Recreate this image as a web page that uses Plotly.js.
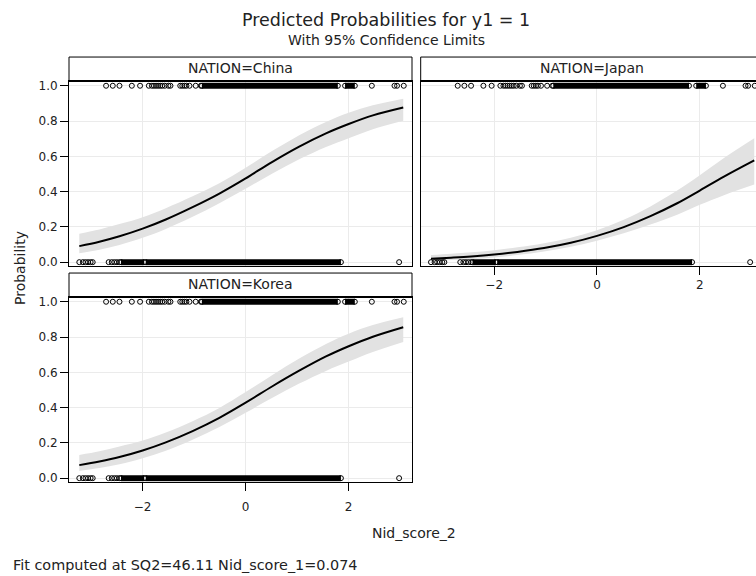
<!DOCTYPE html>
<html><head><meta charset="utf-8">
<script src="https://cdn.plot.ly/plotly-3.0.1.min.js"></script>
<style>html,body{margin:0;padding:0;overflow:hidden;background:#fff}#chart{width:772px;height:576px}</style>
</head><body><div id="chart"></div>
<script>
// ---- data ----
const nations = ['China', 'Japan', 'Korea'];
const fitX = [-3.23, -2.84, -2.45, -2.0, -1.55, -1.03, -0.51, 0, 0.52, 1.04, 1.56, 2.0, 2.47, 3.06];

const chinaP  = [0.091, 0.116, 0.147, 0.190, 0.242, 0.312, 0.389, 0.475, 0.569, 0.655, 0.730, 0.783, 0.832, 0.877];
const chinaLo = [0.050, 0.070, 0.097, 0.138, 0.188, 0.257, 0.334, 0.416, 0.503, 0.583, 0.653, 0.703, 0.754, 0.802];
const chinaHi = [0.161, 0.185, 0.216, 0.255, 0.306, 0.373, 0.448, 0.535, 0.631, 0.720, 0.795, 0.847, 0.889, 0.926];

const japanP  = [0.019, 0.025, 0.032, 0.043, 0.058, 0.080, 0.110, 0.149, 0.199, 0.261, 0.334, 0.406, 0.485, 0.577];
const japanLo = [0.009, 0.013, 0.018, 0.027, 0.040, 0.060, 0.087, 0.122, 0.164, 0.213, 0.269, 0.325, 0.380, 0.440];
const japanHi = [0.040, 0.048, 0.056, 0.068, 0.084, 0.107, 0.138, 0.181, 0.240, 0.316, 0.406, 0.493, 0.591, 0.703];

const koreaP  = [0.074, 0.095, 0.120, 0.157, 0.203, 0.267, 0.342, 0.428, 0.521, 0.609, 0.690, 0.748, 0.802, 0.856];
const koreaLo = [0.040, 0.057, 0.079, 0.113, 0.156, 0.218, 0.290, 0.371, 0.456, 0.536, 0.608, 0.661, 0.715, 0.772];
const koreaHi = [0.132, 0.153, 0.180, 0.214, 0.259, 0.323, 0.398, 0.488, 0.585, 0.678, 0.761, 0.819, 0.868, 0.912];

// observed Nid_score_2 values (same pattern in every panel)
const obsY1Sparse = [-2.71, -2.58, -2.45, -2.21, -2.05, -1.88, -1.82, -1.78, -1.74, -1.70, -1.66, -1.62, -1.57,
                     -1.50, -1.46, -1.27, -1.23, -1.19, -1.15, -1.09, -0.97, -0.87, 2.45, 2.89, 2.94, 3.07];
const obsY1Dense  = [[-0.85, 1.79], [1.93, 2.12]];
const obsY0Sparse = [-3.23, -3.16, -3.11, -3.06, -3.01, -2.97, -2.66, -2.60, -2.55, -2.50, -2.45, 2.98];
const obsY0Dense  = [[-2.42, -1.97], [-1.94, 1.85]];

const xTicks = [-2, 0, 2];
const yTicks = [0, 0.2, 0.4, 0.6, 0.8, 1.0];
const yTickText = ['0.0', '0.2', '0.4', '0.6', '0.8', '1.0'];

// ---- build ----
const FONT = 'DejaVu Sans, sans-serif';
const TXT = '#222';
const W = 772, H = 576;
const px2x = p => p / W;
const py2y = p => 1 - p / H;

const panels = [
  {name: nations[0], p: chinaP, lo: chinaLo, hi: chinaHi, xa: 'x',  ya: 'y'},
  {name: nations[1], p: japanP, lo: japanLo, hi: japanHi, xa: 'x2', ya: 'y2'},
  {name: nations[2], p: koreaP, lo: koreaLo, hi: koreaHi, xa: 'x3', ya: 'y3'}
];

function segs(list, yv) {
  const x = [], y = [];
  list.forEach(s => { x.push(s[0], s[1], null); y.push(yv, yv, null); });
  return {x, y};
}

const MK = {symbol: 'circle-open', size: 5, color: '#000', line: {width: 1}};
const traces = [];
panels.forEach(pn => {
  traces.push({x: fitX, y: pn.lo, xaxis: pn.xa, yaxis: pn.ya, mode: 'lines',
    line: {width: 0, shape: 'spline'}, hoverinfo: 'skip', showlegend: false});
  traces.push({x: fitX, y: pn.hi, xaxis: pn.xa, yaxis: pn.ya, mode: 'lines', fill: 'tonexty',
    fillcolor: '#e2e2e2', line: {width: 0, shape: 'spline'}, hoverinfo: 'skip', showlegend: false});
  traces.push({x: fitX, y: pn.p, xaxis: pn.xa, yaxis: pn.ya, mode: 'lines',
    line: {color: '#000', width: 2, shape: 'spline'}, showlegend: false});
  const d1 = segs(obsY1Dense, 1), d0 = segs(obsY0Dense, 0);
  [d1, d0].forEach(d => traces.push({x: d.x, y: d.y, xaxis: pn.xa, yaxis: pn.ya, mode: 'lines+markers',
    line: {color: '#000', width: 6}, marker: MK, connectgaps: false, showlegend: false}));
  traces.push({x: obsY1Sparse, y: obsY1Sparse.map(() => 1), xaxis: pn.xa, yaxis: pn.ya, mode: 'markers',
    marker: MK, showlegend: false});
  traces.push({x: obsY0Sparse, y: obsY0Sparse.map(() => 0), xaxis: pn.xa, yaxis: pn.ya, mode: 'markers',
    marker: MK, showlegend: false});
});

const xDomL = [px2x(69), px2x(412)];
const xDomR = [px2x(420.7), px2x(763)];
const yDomT = [py2y(265.7), py2y(81)];
const yDomB = [py2y(481.7), py2y(297)];
const xRange = [-3.43, 3.23];
const yRange = [-0.02, 1.027];

function xa(dom, anchor, labels, standoff) {
  return {domain: dom, anchor: anchor, range: xRange, tickvals: xTicks, showgrid: true, gridcolor: '#ebebeb',
    zeroline: false, showline: true, mirror: true, linecolor: '#000', linewidth: 1,
    ticks: labels ? 'outside' : '', ticklen: 8, tickcolor: '#000', showticklabels: labels,
    ticklabelstandoff: standoff || 0,
    tickfont: {family: FONT, size: 12, color: TXT}};
}
function ya(dom, anchor, labels) {
  return {domain: dom, anchor: anchor, range: yRange, tickvals: yTicks, ticktext: yTickText, showgrid: true,
    gridcolor: '#ebebeb', zeroline: false, showline: true, mirror: true, linecolor: '#000', linewidth: 1,
    ticks: labels ? 'outside' : '', ticklen: 8, tickcolor: '#000', showticklabels: labels,
    tickfont: {family: FONT, size: 12, color: TXT}};
}

const hdrH = 24 / 185;
const shapes = [], annotations = [];
panels.forEach(pn => {
  shapes.push({type: 'rect', xref: pn.xa + ' domain', yref: pn.ya + ' domain', x0: 0, x1: 1, y0: 1, y1: 1 + hdrH,
    line: {color: '#000', width: 1}, fillcolor: '#fff'});
  shapes.push({type: 'line', xref: pn.xa + ' domain', yref: pn.ya + ' domain', x0: 0, x1: 1, y0: 1, y1: 1,
    line: {color: '#000', width: 2}});
  annotations.push({xref: pn.xa + ' domain', yref: pn.ya + ' domain', x: 0.5, y: 1 + hdrH / 2 + 0.005, xanchor: 'center',
    yanchor: 'middle', showarrow: false, text: 'NATION=' + pn.name, font: {family: FONT, size: 14, color: TXT}});
});
annotations.push({xref: 'paper', yref: 'paper', x: 0.5, y: py2y(20), xanchor: 'center', yanchor: 'middle',
  showarrow: false, text: 'Predicted Probabilities for y1 = 1', font: {family: FONT, size: 17.5, color: TXT}});
annotations.push({xref: 'paper', yref: 'paper', x: 0.5, y: py2y(40), xanchor: 'center', yanchor: 'middle',
  showarrow: false, text: 'With 95% Confidence Limits', font: {family: FONT, size: 14, color: TXT}});
annotations.push({xref: 'paper', yref: 'paper', x: px2x(414), y: py2y(533), xanchor: 'center', yanchor: 'middle',
  showarrow: false, text: 'Nid_score_2', font: {family: FONT, size: 14, color: TXT}});
annotations.push({xref: 'paper', yref: 'paper', x: px2x(20), y: py2y(268), xanchor: 'center', yanchor: 'middle',
  textangle: -90, showarrow: false, text: 'Probability', font: {family: FONT, size: 14, color: TXT}});
annotations.push({xref: 'paper', yref: 'paper', x: px2x(11), y: py2y(565), xanchor: 'left', yanchor: 'middle',
  showarrow: false, text: 'Fit computed at SQ2=46.11 Nid_score_1=0.074', font: {family: FONT, size: 14.4, color: TXT}});

const layout = {
  width: W, height: H, margin: {l: 0, r: 0, t: 0, b: 0},
  paper_bgcolor: '#fff', plot_bgcolor: '#fff', showlegend: false,
  xaxis: xa(xDomL, 'y', false), yaxis: ya(yDomT, 'x', true),
  xaxis2: xa(xDomR, 'y2', true), yaxis2: ya(yDomT, 'x2', false),
  xaxis3: xa(xDomL, 'y3', true, 6), yaxis3: ya(yDomB, 'x3', true),
  shapes: shapes, annotations: annotations
};

Plotly.newPlot('chart', traces, layout, {displayModeBar: false, staticPlot: true});
</script>
</body></html>
